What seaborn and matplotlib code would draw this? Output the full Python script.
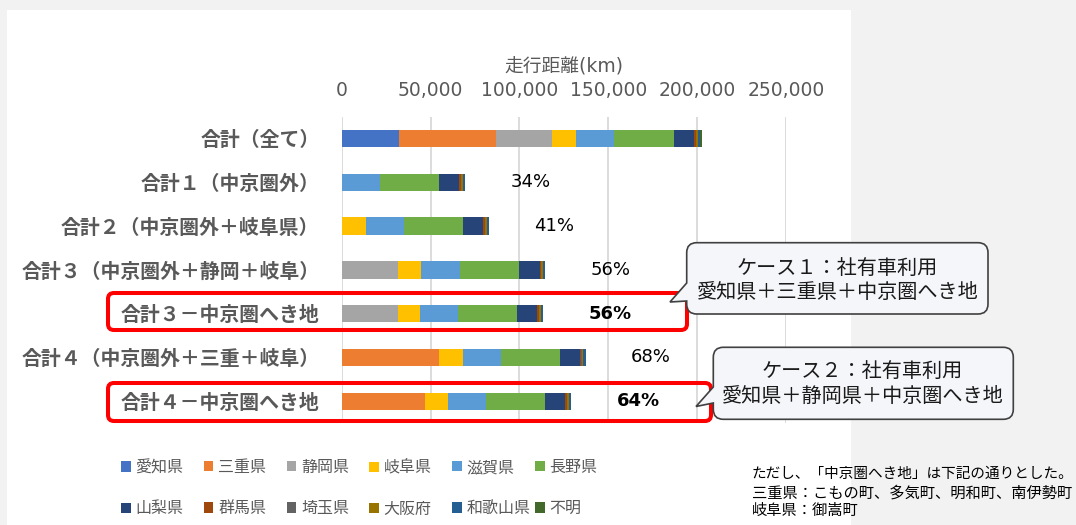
import numpy as np
import matplotlib
matplotlib.use("Agg")
import matplotlib.pyplot as plt
import seaborn as sns
from matplotlib.path import Path
from matplotlib.patches import PathPatch, FancyBboxPatch, Rectangle, Patch
from matplotlib.transforms import Affine2D
from matplotlib.ticker import FuncFormatter

# ---- data (走行距離, km) ----
categories = [
    "合計（全て）",
    "合計１（中京圏外）",
    "合計２（中京圏外＋岐阜県）",
    "合計３（中京圏外＋静岡＋岐阜）",
    "合計３－中京圏へき地",
    "合計４（中京圏外＋三重＋岐阜）",
    "合計４－中京圏へき地",
]
prefectures = ["愛知県", "三重県", "静岡県", "岐阜県", "滋賀県", "長野県",
               "山梨県", "群馬県", "埼玉県", "大阪府", "和歌山県", "不明"]

aichi     = [32500, 0, 0, 0, 0, 0, 0]
mie       = [54500, 0, 0, 0, 0, 54500, 47100]
shizuoka  = [31400, 0, 0, 31400, 31400, 0, 0]
gifu      = [13600, 0, 13400, 13500, 12600, 13500, 12700]
shiga     = [21400, 21300, 21400, 21400, 21400, 21500, 21500]
nagano    = [33500, 33600, 33600, 33600, 33400, 33400, 33300]
yamanashi = [11400, 11300, 11300, 11400, 11300, 11100, 11300]
gunma     = [800, 800, 800, 800, 800, 800, 800]
saitama   = [300, 300, 300, 300, 300, 300, 300]
osaka     = [900, 900, 900, 900, 900, 900, 900]
wakayama  = [1200, 1200, 1200, 1200, 1200, 1200, 1200]
unknown   = [1500, 0, 0, 0, 0, 0, 0]

series = [aichi, mie, shizuoka, gifu, shiga, nagano, yamanashi,
          gunma, saitama, osaka, wakayama, unknown]
colors = ["#4472C4", "#ED7D31", "#A5A5A5", "#FFC000", "#5B9BD5", "#70AD47",
          "#264478", "#9E480E", "#636363", "#997300", "#255E91", "#43682B"]

highlight_rows = [4, 6]

callout_lines = [
    ["ケース１：社有車利用", "愛知県＋三重県＋中京圏へき地"],
    ["ケース２：社有車利用", "愛知県＋静岡県＋中京圏へき地"],
]
note_lines = ["ただし、「中京圏へき地」は下記の通りとした。",
              "三重県：こもの町、多気町、明和町、南伊勢町",
              "岐阜県：御嵩町"]

# ---- style ----
sns.set_theme(style="white")
plt.rcParams["font.family"] = ["DejaVu Sans", "Noto Sans CJK JP"]

W, H = 1076, 525
fig = plt.figure(figsize=(W / 100, H / 100), dpi=100, facecolor="#f2f2f2")
# pixel coordinates, origin top-left
px = Affine2D().scale(1 / W, -1 / H).translate(0, 1) + fig.transFigure

fig.patches.append(Rectangle((7, 10), 844, 515, transform=px, facecolor="white",
                             edgecolor="none", zorder=-10))

ax = fig.add_axes([341.7 / W, 1 - 423.2 / H, (786 - 341.7) / W, 306.6 / H])
ax.set_facecolor("none")

left = np.zeros(len(categories))
for name, vals, col in zip(prefectures, series, colors):
    sns.barplot(x=vals, y=categories, order=categories, orient="y", left=left,
                color=col, saturation=1, width=0.4, errorbar=None,
                linewidth=0, ax=ax)
    left = left + np.asarray(vals, dtype=float)
totals = left

ax.set_xlim(0, 250000)
ax.set_xticks(range(0, 250001, 50000))
ax.xaxis.set_major_formatter(FuncFormatter(lambda v, p: f"{int(v):,}"))
ax.xaxis.tick_top()
ax.xaxis.set_label_position("top")
ax.grid(axis="x", color="#d9d9d9", linewidth=1.3)
ax.grid(axis="y", visible=False)
ax.set_axisbelow(True)
for s in ax.spines.values():
    s.set_visible(False)
ax.tick_params(axis="x", length=0, pad=12, labelsize=13.5, labelcolor="#595959")
ax.tick_params(axis="y", length=0, pad=16, labelsize=14.3, labelcolor="#595959")
for t in ax.get_yticklabels():
    t.set_fontweight("bold")
ax.set_xlabel("走行距離(km)", fontsize=13.5, color="#595959", labelpad=6)
ax.set_ylabel("")

# share of the overall total
for i in range(1, len(categories)):
    pct = totals[i] / totals[0] * 100
    ax.text(totals[i] + 25600, i, f"{pct:.0f}%", va="center", ha="left",
            fontsize=13, color="black",
            fontweight="bold" if i in highlight_rows else "normal")

# red frames around the highlighted rows
for (x0, y0, x1, y1) in [(108, 293, 687, 330), (108, 383, 711, 421)]:
    fig.patches.append(FancyBboxPatch((x0, y0), x1 - x0, y1 - y0,
                                      boxstyle="round,pad=0,rounding_size=6",
                                      transform=px, facecolor="none",
                                      edgecolor="#ff0000", linewidth=2.9, zorder=5))


def callout_path(x0, y0, x1, y1, r, ya, yb, tip):
    verts = [(x0 + r, y0), (x1 - r, y0), (x1, y0), (x1, y0 + r),
             (x1, y1 - r), (x1, y1), (x1 - r, y1), (x0 + r, y1),
             (x0, y1), (x0, y1 - r), (x0, yb), tip, (x0, ya),
             (x0, y0 + r), (x0, y0), (x0 + r, y0), (x0 + r, y0)]
    codes = [Path.MOVETO, Path.LINETO, Path.CURVE3, Path.CURVE3,
             Path.LINETO, Path.CURVE3, Path.CURVE3, Path.LINETO,
             Path.CURVE3, Path.CURVE3, Path.LINETO, Path.LINETO, Path.LINETO,
             Path.LINETO, Path.CURVE3, Path.CURVE3, Path.CLOSEPOLY]
    return Path(verts, codes)


callouts = [
    dict(box=(686.7, 242.7, 988, 314), ya=283, yb=301, tip=(670, 302),
         cx=837.5, ys=(268, 292.7)),
    dict(box=(713.3, 347.3, 1013.3, 419.3), ya=387, yb=403, tip=(696, 406.5),
         cx=862.5, ys=(371.7, 396.7)),
]
for c, lines in zip(callouts, callout_lines):
    x0, y0, x1, y1 = c["box"]
    path = callout_path(x0, y0, x1, y1, 10, c["ya"], c["yb"], c["tip"])
    fig.patches.append(PathPatch(path, transform=px, facecolor="#f5f6fa",
                                 edgecolor="#404040", linewidth=1.2, zorder=6))
    for y, line in zip(c["ys"], lines):
        fig.text(c["cx"], y, line, transform=px, ha="center", va="center",
                 fontsize=14.5, color="#1a1a1a", zorder=7)

# footnote
for y, line, fs in zip((473, 492.7, 510.5), note_lines, (10.5, 11, 11)):
    fig.text(751.7, y, line, transform=px, ha="left", va="center",
             fontsize=fs, color="black")

# legend: six columns of two entries, evenly spaced
handles = [Patch(facecolor=c, edgecolor="none") for c in colors]
for j in range(6):
    fig.legend([handles[j], handles[j + 6]], [prefectures[j], prefectures[j + 6]],
               loc="upper left", bbox_to_anchor=(121 + 82.8 * j, 460),
               bbox_transform=px, ncol=1, fontsize=11.5, frameon=False,
               handlelength=0.6, handleheight=0.6, handletextpad=0.3,
               labelspacing=1.64, borderpad=0, borderaxespad=0,
               labelcolor="#595959")

fig.savefig("out.png", dpi=100, facecolor=fig.get_facecolor())
